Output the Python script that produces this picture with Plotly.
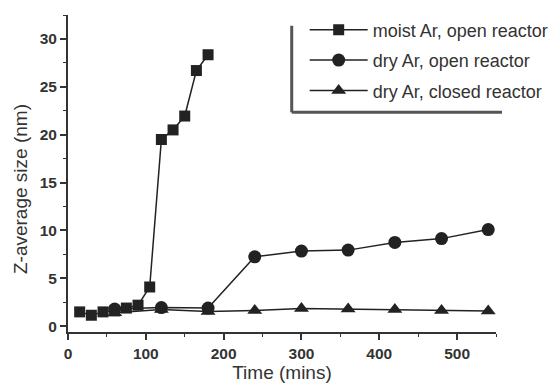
import plotly.graph_objects as go

moist_x = [15, 30, 45, 60, 75, 90, 105, 120, 135, 150, 165, 180]
moist_y = [1.5, 1.15, 1.5, 1.6, 1.9, 2.2, 4.1, 19.5, 20.5, 21.95, 26.7, 28.35]

dry_open_x = [60, 120, 180, 240, 300, 360, 420, 480, 540]
dry_open_y = [1.8, 1.95, 1.9, 7.25, 7.85, 7.95, 8.75, 9.15, 10.1]

dry_closed_x = [60, 120, 180, 240, 300, 360, 420, 480, 540]
dry_closed_y = [1.4, 1.75, 1.55, 1.65, 1.85, 1.8, 1.75, 1.65, 1.6]

names = ["moist Ar, open reactor", "dry Ar, open reactor", "dry Ar, closed reactor"]

x_ticks = [0, 100, 200, 300, 400, 500]
y_ticks = [0, 5, 10, 15, 20, 25, 30]

ink = "#222222"
fig = go.Figure()
series = [
    (moist_x, moist_y, "square", 11),
    (dry_open_x, dry_open_y, "circle", 13),
    (dry_closed_x, dry_closed_y, "triangle-up", 13),
]
for i, ((xs, ys, sym, sz), nm) in enumerate(zip(series, names)):
    fig.add_trace(go.Scatter(
        x=xs, y=ys, name=nm, mode="lines+markers", legendgroup=f"g{i}",
        line=dict(color=ink, width=1.5),
        marker=dict(symbol=sym, size=sz, color=ink),
    ))

axis_common = dict(
    showline=True, linecolor="#333333", linewidth=2,
    ticks="outside", ticklen=6, tickwidth=1.5, tickcolor="#333333",
    showgrid=False, zeroline=False, automargin=False,
    tickfont=dict(family="Liberation Sans, Arial", size=15.5, color="#333333", weight="bold"),
    minor=dict(ticks="outside", ticklen=3, tickwidth=1, tickcolor="#333333"),
)

# page body has an 8px margin: figure is sized/placed to compensate
fig.update_layout(
    width=552, height=379,
    margin=dict(l=60, r=64, t=4, b=55),
    plot_bgcolor="white", paper_bgcolor="white",
    font=dict(family="Liberation Sans, Arial", color="#333333"),
    xaxis=dict(range=[0, 550], tickvals=x_ticks,
               title=dict(text="Time (mins)", font=dict(size=19), standoff=5),
               **axis_common),
    yaxis=dict(range=[-0.6, 32.5], tickvals=y_ticks, **axis_common),
    legend=dict(x=0.553, y=1.011, xanchor="left", yanchor="top",
                bgcolor="rgba(0,0,0,0)", font=dict(size=18, color="#333333"),
                tracegroupgap=4, itemwidth=58),
    showlegend=True,
)
fig.update_xaxes(minor_dtick=50)
fig.update_yaxes(minor_dtick=2.5)

fig.add_annotation(text="Z-average size (nm)", textangle=-90, showarrow=False,
                   xref="paper", yref="paper", x=0, y=0.451,
                   xanchor="center", yanchor="middle", xshift=-48,
                   font=dict(size=19, color="#333333"))

fig.add_shape(type="line", xref="paper", yref="paper",
              x0=0.5227, x1=0.5227, y0=0.966, y1=0.693,
              line=dict(color="#555555", width=3))
fig.add_shape(type="line", xref="paper", yref="paper",
              x0=0.5227, x1=1.014, y0=0.693, y1=0.693,
              line=dict(color="#555555", width=3))

fig.write_html("out.html")
